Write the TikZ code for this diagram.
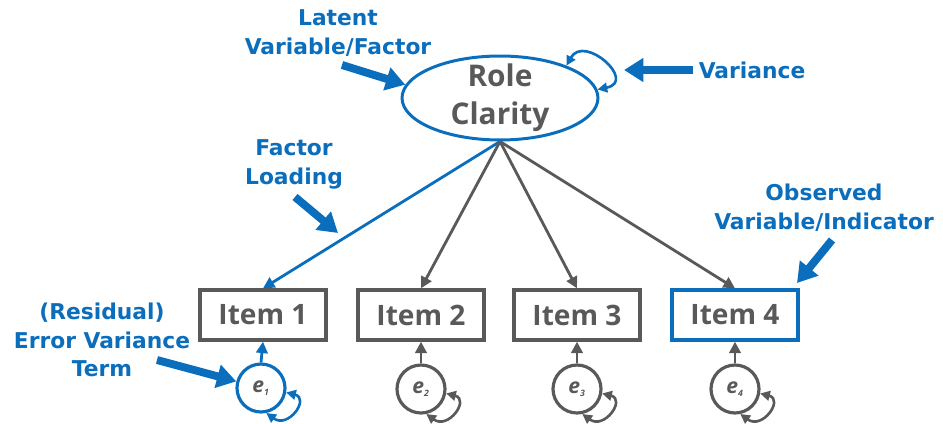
\documentclass[tikz,border=0pt]{standalone}
\usepackage{fontspec}
\setsansfont{Open Sans}
\newfontfamily\notefont{DejaVu Sans}
\usetikzlibrary{arrows.meta,shapes.geometric}
\definecolor{semblue}{HTML}{0A6EBD}
\definecolor{semgray}{HTML}{595959}
\tikzset{
	latent/.style={ellipse,draw=semblue,line width=1.7pt,minimum width=3.92cm,minimum height=1.68cm,inner sep=0pt},
	item/.style={rectangle,draw=semgray,line width=1.9pt,minimum width=2.52cm,minimum height=1cm,text=semgray,font=\sffamily\bfseries\fontsize{16}{19}\selectfont},
	err/.style={circle,draw=semgray,line width=1.8pt,minimum size=0.96cm,inner sep=0pt,text=semgray,font=\sffamily\bfseries\itshape\fontsize{12}{12}\selectfont},
	note/.style={text=semblue,align=center,font=\notefont\bfseries\fontsize{12.4}{16.4}\selectfont},
	callout/.style={draw=semblue,line width=4.5pt,-{Triangle[length=11pt,width=13pt]}},
	load/.style={draw=semgray,line width=1.6pt,-{Triangle[length=6.5pt,width=6.5pt]}},
	vloop/.style={draw=semgray,line width=1.5pt,{Triangle[length=5.5pt,width=5.5pt]}-{Triangle[length=5.5pt,width=5.5pt]}}
}
\newcommand{\esub}[1]{e\textsubscript{\fontsize{5}{5}\selectfont #1}}
\begin{document}
\begin{tikzpicture}[x=0.02cm,y=-0.02cm]
	\useasboundingbox (0,0) rectangle (943,423);
	% factor and indicators
	\node[latent,label={[text=semgray,align=center,font=\sffamily\bfseries\fontsize{17}{21.5}\selectfont]center:Role\\Clarity}] (role) at (500,98) {};
	\node[item] (i1) at (263,315) {Item 1};
	\node[item] (i2) at (421,315) {Item 2};
	\node[item] (i3) at (577,315) {Item 3};
	\node[item,draw=semblue] (i4) at (735,315) {Item 4};
	\node[err,draw=semblue] (e1) at (261,388) {\esub{1}};
	\node[err] (e2) at (421,389) {\esub{2}};
	\node[err] (e3) at (577,389) {\esub{3}};
	\node[err] (e4) at (735,389) {\esub{4}};
	% loadings
	\draw[load,draw=semblue] (role.south) -- (i1.north);
	\draw[load] (role.south) -- (i2.north);
	\draw[load] (role.south) -- (i3.north);
	\draw[load] (role.south) -- (i4.north);
	% errors
	\draw[load,draw=semblue] (e1.north) -- (i1.south);
	\foreach \k in {2,3,4}
		\draw[load] (e\k.north) -- (i\k.south);
	% variances
	\draw[vloop,draw=semblue] (role.26) .. controls +(18,-32) and +(40,-8) .. (role.5);
	\draw[vloop,draw=semblue] (e1.-10) .. controls +(24,6) and +(22,16) .. (e1.-78);
	\foreach \k in {2,3,4}
		\draw[vloop] (e\k.-10) .. controls +(24,6) and +(22,16) .. (e\k.-78);
	% notes
	\node[note] (lat) at (338,33) {Latent\\Variable/Factor};
	\node[note] (var) at (752,70) {Variance};
	\node[note] (fl) at (294,164) {Factor\\Loading};
	\node[note] (obs) at (824,208) {Observed\\Variable/Indicator};
	\node[note] (res) at (102,340) {(Residual)\\Error Variance\\Term};
	\coordinate (lattail) at (342,65);
	\coordinate (vartip) at (624,70);
	\coordinate (fltail) at (295,197);
	\coordinate (fltip) at (338,233);
	\coordinate (obstail) at (832,240);
	\coordinate (obstip) at (797,283);
	\coordinate (restail) at (157,360);
	\draw[callout] (lattail) -- (role.172);
	\draw[callout] (var.west) -- (vartip);
	\draw[callout] (fltail) -- (fltip);
	\draw[callout] (obstail) -- (obstip);
	\draw[callout] (restail) -- (e1.165);
\end{tikzpicture}
\end{document}
